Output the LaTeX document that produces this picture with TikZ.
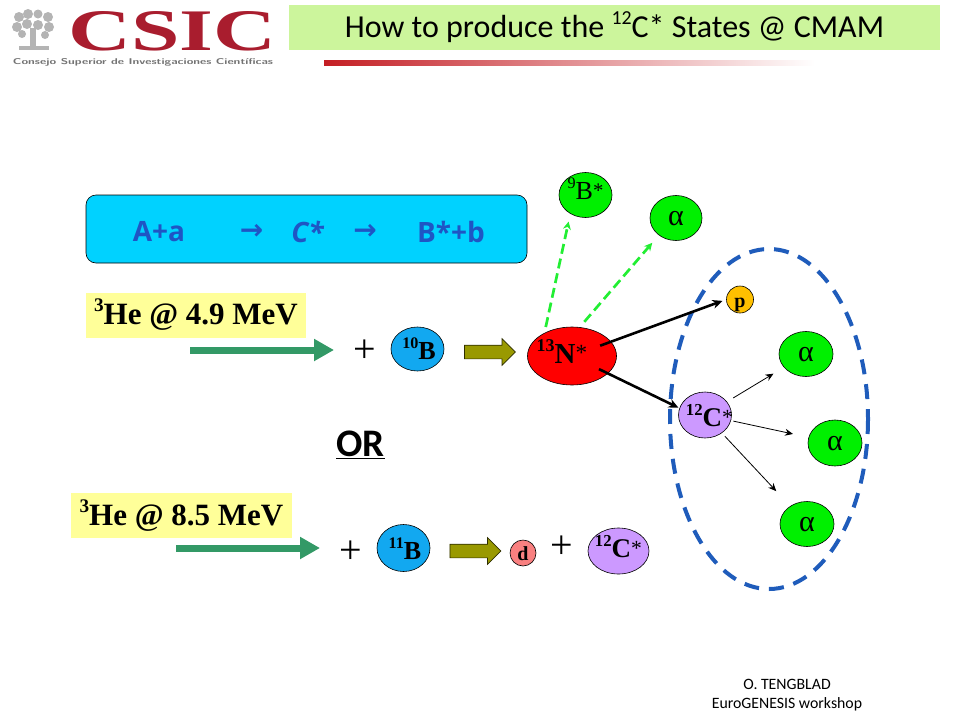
\documentclass[tikz,border=0pt]{standalone}
\usepackage{fontspec}
\usepackage{graphicx}
\usetikzlibrary{arrows.meta,shapes.geometric,shapes.arrows}
\setmainfont{Liberation Serif}
\newfontfamily\slidefont{Carlito}
\newfontfamily\boxfont{Open Sans}
\newfontfamily\symfont{DejaVu Sans}
\definecolor{logored}{HTML}{A91D2E}
\definecolor{logogray}{HTML}{B4B4B4}
\definecolor{titlegreen}{HTML}{CCF59C}
\definecolor{barred}{HTML}{C41E24}
\definecolor{boxcyan}{HTML}{00D2FF}
\definecolor{boxblue}{HTML}{1F55C4}
\definecolor{notegold}{HTML}{FFFF99}
\definecolor{beamgreen}{HTML}{339966}
\definecolor{pushcolor}{HTML}{999900}
\definecolor{ballgreen}{HTML}{00F000}
\definecolor{ballblue}{HTML}{12A8F0}
\definecolor{ballviolet}{HTML}{CC99FF}
\definecolor{ballred}{HTML}{FF0000}
\definecolor{ballgold}{HTML}{FFC000}
\definecolor{ballpink}{HTML}{F98080}
\definecolor{decaygreen}{HTML}{22EE33}
\definecolor{ringblue}{HTML}{1F5CBB}
\newcommand{\inball}[3]{\makebox[0pt]{\hspace*{\dimexpr2\dimexpr#1pt\relax\relax}\smash{\raisebox{\dimexpr-0.3em-#2pt\relax}{#3}}}}
\newcommand{\iso}[2]{\raisebox{0.42em}{\scalebox{0.62}{#1}}#2}
\newcommand{\exstar}{\raisebox{0.1em}{\scalebox{0.8}{\textmd{*}}}}
\begin{document}
\begin{tikzpicture}[
    x=1pt, y=-1pt,
    ball/.style={ellipse, draw=black, line width=0.6pt, inner sep=0pt},
    balllabel/.style={font=\fontsize{26}{26}\selectfont\bfseries},
    note/.style={fill=notegold, inner sep=0pt, minimum height=45pt, font=\fontsize{31}{31}\selectfont\bfseries},
    beam/.style={beamgreen, line width=7pt, -{Triangle[length=20pt,width=21pt]}},
    push/.style={single arrow, draw=black!70!pushcolor, fill=pushcolor, line width=0.7pt, inner xsep=0pt, inner ysep=6.5pt,
        minimum height=51pt, single arrow head extend=6.5pt, single arrow head indent=0pt},
    plus/.style={font=\fontsize{40}{40}\selectfont},
    emit/.style={black, line width=2.6pt, -{Stealth[length=10pt,width=9pt]}},
    thin emit/.style={black, line width=0.8pt, -{Stealth[length=8pt,width=7pt]}},
    decay/.style={decaygreen, line width=2.7pt, dash pattern=on 10pt off 5pt, -{Stealth[length=8pt,width=8pt]}},
]
    \useasboundingbox (0,0) rectangle (960,720);

    % logo
    \node[inner sep=0pt, text=logored] (logo) at (172.5,31.5) {\resizebox{208pt}{39pt}{\bfseries CSIC}};
    \node[inner sep=0pt, text=black!55] (logotext) at (143,62) {\resizebox{260pt}{6pt}{\sffamily\bfseries\textsc{Consejo Superior de Investigaciones Científicas}}};
    \foreach \ex/\ey/\er in {19/17/5, 28/14/5, 38/14/4.5, 48/17/5, 17/27/5, 27/24/5, 38/25/5, 49/27/5, 22/34/4, 45/35/4}{
        \fill[logogray] (\ex,\ey) circle (\er);
    }
    \fill[logogray] (30,28) rectangle (36,46);
    \fill[logogray] (19,46) rectangle (49,50);

    % title
    \fill[titlegreen] (289,5) rectangle (940,50);
    \node[font=\slidefont\fontsize{32}{32}\selectfont, inner sep=0pt] (title) at (614.5,27) {How to produce the \iso{12}{C}* States @ CMAM};
    \shade[left color=barred, right color=white] (324,60) rectangle (815,65);

    % reaction box
    \node[draw=black, line width=0.6pt, fill=boxcyan, rounded corners=10pt, inner sep=0pt,
        minimum width=441pt, minimum height=68pt] (reaction) at (306.5,229) {};
    \foreach \txt/\tx in {A+a/159, \symfont →/251.5, \itshape C*/307.5, \symfont →/365, B*+b/451}{
        \node[font=\boxfont\fontsize{28}{28}\selectfont\bfseries, text=boxblue] at (\tx,232) {\txt};
    }

    \node[note, minimum width=220pt] (note1) at (196,315) {\iso{3}{He} @ 4.9 MeV};
    \node[note, minimum width=221pt] (note2) at (181.5,515.5) {\iso{3}{He} @ 8.5 MeV};

    \coordinate (beam1a) at (190,350);
    \coordinate (beam1b) at (334,350);
    \coordinate (beam2a) at (176,548);
    \coordinate (beam2b) at (320,548);
    \draw[beam] (beam1a) -- (beam1b);
    \draw[beam] (beam2a) -- (beam2b);

    \node[plus] (plus1) at (364.5,351) {+};
    \node[plus] (plus2) at (350.5,552) {+};
    \node[plus] (plus3) at (562,547) {+};
    \node[push] (push1) at (486.5,352) {};
    \node[push] (push2) at (472,551) {};

    \node[font=\slidefont\fontsize{39}{39}\selectfont\bfseries, inner sep=0pt] (orlabel) at (360.5,445) {\underline{OR}};

    % nodes
    \foreach \nm/\nx/\ny/\nw/\nh/\col/\dx/\dy/\lbl in {%
        boron10/417.5/349/53/44/ballblue/1.5/3/{\iso{10}{B}},%
        nitrogen/572/356/89/58/ballred/-10/0/{\fontsize{29}{29}\selectfont\iso{13}{N}\exstar},%
        boron9/585.5/195/53/45/ballgreen/0/-3/{\mdseries\iso{9}{B}\exstar},%
        alphatop/676/218/52/45/ballgreen/0/0/{\fontsize{30}{30}\selectfont\mdseries α},%
        proton/740/299.5/27/27/ballgold/0/0/{\fontsize{20}{20}\selectfont p},%
        carbon/705/415/53/46/ballviolet/4.5/4/{\fontsize{27}{27}\selectfont\iso{12}{C}\exstar},%
        alpha1/806/354/54/45/ballgreen/0/0/{\fontsize{30}{30}\selectfont\mdseries α},%
        alpha2/835/443/54/46/ballgreen/0/0/{\fontsize{30}{30}\selectfont\mdseries α},%
        alpha3/807/524/54/45/ballgreen/0/0/{\fontsize{30}{30}\selectfont\mdseries α},%
        boron11/403.5/548/53/47/ballblue/1.5/4/{\iso{11}{B}},%
        deuteron/523/553/26/26/ballpink/0/0/{\fontsize{20}{20}\selectfont d},%
        carbon2/618.5/551/61/46/ballviolet/0/-1/{\fontsize{27}{27}\selectfont\iso{12}{C}\exstar}%
    }{
        \node[ball, balllabel, fill=\col, minimum width=\nw pt, minimum height=\nh pt] (\nm) at (\nx,\ny) {\inball{\dx}{\dy}{\lbl}};
    }

    % decays
    \draw[decay, shorten <=6pt, shorten >=8pt] (nitrogen.140) -- (boron9.231);
    \draw[decay, shorten <=7pt, shorten >=10pt] (nitrogen.75) -- (alphatop.225);
    \draw[ringblue, line width=4pt, dash pattern=on 15pt off 10pt] (769,419) ellipse (99 and 170);
    \draw[emit, shorten <=30pt, shorten >=4pt] (nitrogen.center) -- (proton.west);
    \draw[emit, shorten <=30pt, shorten >=1pt] (nitrogen.center) -- (carbon.165);
    \foreach \nm/\sa/\sb in {alpha1/33/38, alpha2/29/43, alpha3/29/45}{
        \draw[thin emit, shorten <=\sa pt, shorten >=\sb pt] (carbon.center) -- (\nm.center);
    }

    \node[font=\slidefont\fontsize{15.8}{16}\selectfont, inner sep=0pt] (credit1) at (787,684) {O. TENGBLAD};
    \node[font=\slidefont\fontsize{15.8}{16}\selectfont, inner sep=0pt] (credit2) at (787,704) {EuroGENESIS workshop};
\end{tikzpicture}
\end{document}
